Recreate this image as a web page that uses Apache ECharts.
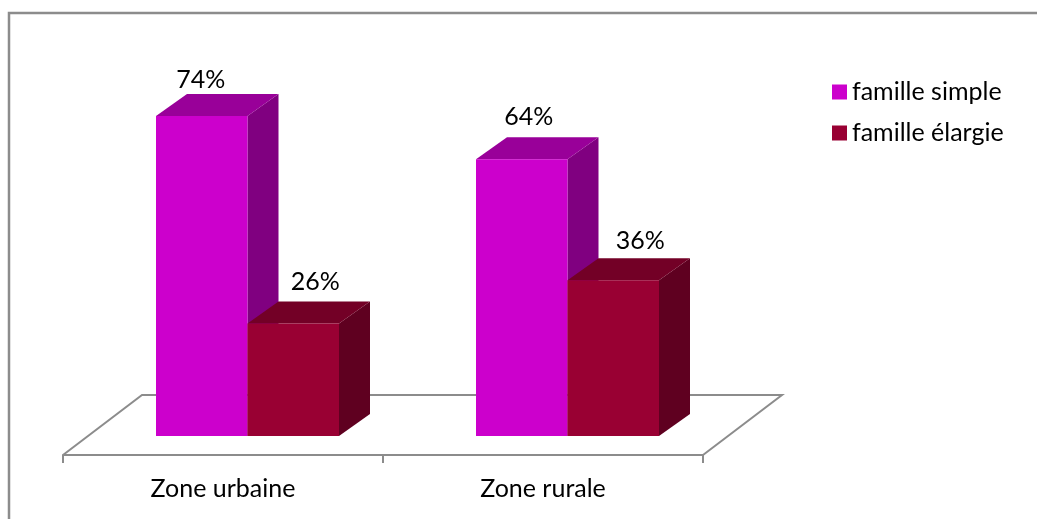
<!DOCTYPE html>
<html>
<head>
<meta charset="utf-8">
<style>html,body{margin:0;padding:0;background:#fff}#chart{width:1037px;height:519px}</style>
<script src="https://cdn.jsdelivr.net/npm/echarts@6/dist/echarts.min.js"></script>
</head>
<body>
<div id="chart"></div>
<script>
// Household structure by zone, share of each family type (%)
const zones = ['Zone urbaine', 'Zone rurale'];
const familleSimple = [74, 64];
const familleElargie = [26, 36];

// Layout of the pseudo-3D boxes
const FONT = 'Lato';
const FONT_SIZE = 25;
const barW = 91.5, depthX = 31, depthY = 22, groupShift = 24.5;
const floorDepthX = 79, floorDepthY = 60, floorDrop = 19;
const axisGrey = '#8c8c8c';
// Hand-placed data label nudges [dx, dy] per series and zone
const simpleLabelNudge = [[-1, -14], [7, -20]];
const elargieLabelNudge = [[22, -20], [27, -17]];

function boxSeries(name, values, side, colors, nudges) {
  return {
    name, type: 'custom', z: 5,
    itemStyle: { color: colors.front },
    encode: { x: 0, y: 1 },
    data: values.map((v, i) => [i, v]),
    renderItem(params, api) {
      const i = api.value(0);
      const top = api.coord([i, api.value(1)]);
      const base = api.coord([i, 0]);
      const x0 = top[0] + groupShift + (side === 0 ? -barW : 0);
      const x1 = x0 + barW;
      const y0 = top[1], y1 = base[1];
      const poly = (pts, fill) => ({ type: 'polygon', shape: { points: pts }, style: { fill } });
      const n = nudges[params.dataIndex];
      return {
        type: 'group',
        children: [
          poly([[x1, y0], [x1 + depthX, y0 - depthY], [x1 + depthX, y1 - depthY], [x1, y1]], colors.side),
          poly([[x0, y0], [x0 + depthX, y0 - depthY], [x1 + depthX, y0 - depthY], [x1, y0]], colors.top),
          poly([[x0, y0], [x1, y0], [x1, y1], [x0, y1]], colors.front),
          {
            type: 'text',
            style: {
              x: (x0 + x1) / 2 + n[0], y: y0 - depthY + n[1],
              text: api.value(1) + '%', fill: '#000',
              font: FONT_SIZE + 'px ' + FONT, align: 'center', verticalAlign: 'middle'
            }
          }
        ]
      };
    }
  };
}

// Floor plane behind the boxes; its front edge is the category axis line
const floorSeries = {
  type: 'custom', z: 1, silent: true, legendHoverLink: false,
  data: [[0, 0]],
  renderItem(params, api) {
    const cs = params.coordSys;
    const yFront = api.coord([0, 0])[1] + floorDrop;
    const xl = cs.x, xr = cs.x + cs.width;
    return {
      type: 'polyline',
      shape: { points: [
        [xl, yFront],
        [xl + floorDepthX, yFront - floorDepthY],
        [xr + floorDepthX, yFront - floorDepthY],
        [xr, yFront]
      ] },
      style: { fill: 'none', stroke: axisGrey, lineWidth: 2 }
    };
  }
};

const chart = echarts.init(document.getElementById('chart'), null, { renderer: 'canvas' });
chart.setOption({
  animation: false,
  backgroundColor: '#ffffff',
  textStyle: { fontFamily: FONT },
  grid: { left: 63, top: 36, width: 640, height: 400 },
  legend: {
    left: 827, top: 72, orient: 'vertical', itemWidth: 15, itemHeight: 15, itemGap: 11,
    icon: 'rect', selectedMode: false,
    data: ['famille simple', 'famille élargie'],
    textStyle: { fontFamily: FONT, fontSize: FONT_SIZE, lineHeight: 30, color: '#000', padding: [0, 0, 0, 0] }
  },
  xAxis: {
    type: 'category', data: zones, offset: floorDrop,
    axisLine: { onZero: false, lineStyle: { color: axisGrey, width: 2 } },
    axisTick: { show: true, alignWithLabel: false, length: 8, lineStyle: { color: axisGrey, width: 2 } },
    axisLabel: { color: '#000', fontFamily: FONT, fontSize: FONT_SIZE, margin: 21 }
  },
  yAxis: { type: 'value', min: 0, max: 92.5, show: false, splitLine: { show: false } },
  series: [
    floorSeries,
    boxSeries('famille simple', familleSimple, 0, { front: '#cc00cc', side: '#800080', top: '#990099' }, simpleLabelNudge),
    boxSeries('famille élargie', familleElargie, 1, { front: '#990033', side: '#5f0020', top: '#730026' }, elargieLabelNudge)
  ],
  graphic: [{
    type: 'polyline', silent: true, z: 0,
    shape: { points: [[9, 519], [9, 13], [1037, 13]] },
    style: { fill: 'none', stroke: axisGrey, lineWidth: 2.5 }
  }]
});
</script>
</body>
</html>
